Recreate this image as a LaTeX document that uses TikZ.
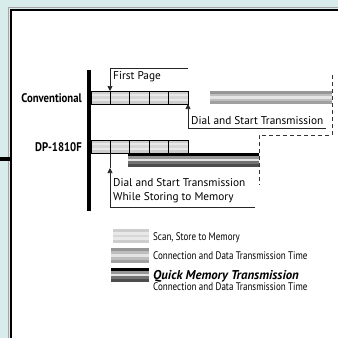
\documentclass[tikz,border=0pt]{standalone}
\usepackage{fontspec}
\setmainfont{PT Sans}
\newfontfamily\condfont[FakeStretch=0.82]{PT Sans}
\newfontfamily\rowfont[FakeStretch=0.86]{PT Sans}
\usetikzlibrary{arrows.meta,positioning}

\definecolor{bgcyan}{RGB}{216,236,235}
\definecolor{scanA}{RGB}{205,205,205}
\definecolor{scanB}{RGB}{232,232,232}
\definecolor{connA}{RGB}{150,150,150}
\definecolor{connB}{RGB}{190,190,190}
\definecolor{connC}{RGB}{228,228,228}

% five horizontal stripes: x1, y1, x2, y2, colours
\newcommand{\stripebar}[5]{%
  \foreach \c [count=\i from 0] in {#5}
    \fill[\c] (#1,{#2+\i*(#4-#2)/5}) rectangle (#3,{#2+(\i+1)*(#4-#2)/5});
}

\tikzset{
  cell/.style={draw=black,line width=0.8pt},
  leader/.style={draw=black!85,line width=0.7pt},
  tip/.style={-{Triangle[length=5pt,width=5pt]}},
  guide/.style={draw=black!80,line width=0.8pt,dash pattern=on 4pt off 3pt},
  rowlabel/.style={font=\rowfont\bfseries\fontsize{12.5}{14}\selectfont,anchor=base east,inner sep=0pt},
  note/.style={font=\fontsize{11.3}{13}\selectfont,anchor=base west,inner sep=0pt},
  keytext/.style={font=\condfont\fontsize{11}{13}\selectfont,anchor=base west,inner sep=0pt}
}

\begin{document}
\begin{tikzpicture}[x=1pt,y=-1pt]

    % 1. Background and panel
    \useasboundingbox (0,0) rectangle (338,338);
    \fill[bgcyan] (0,0) rectangle (338,338);
    \fill[white] (11,10) rectangle (338,338);
    \draw[black!35,line width=1pt] (8.5,338) -- (8.5,7.5) -- (338,7.5);
    \draw[line width=2.2pt] (11,338) -- (11,10) -- (338,10);
    \draw[line width=3.5pt] (0,159) -- (11,159);

    % 2. Time axis
    \draw[line width=4pt] (89,70) -- (89,211);

    % 3. Conventional row
    \stripebar{91}{91}{188}{104}{scanA,scanB,scanA!80,scanB,scanA}
    \draw[cell] (91,91) rectangle (188,104);
    \foreach \x in {110,129,149,168} \draw[cell] (\x,91) -- (\x,104);
    \stripebar{210}{91}{332}{104}{connA,connB,connC,connB,connA!90}
    \node[rowlabel] (conv) at (82,102) {Conventional};

    % 4. DP-1810F row
    \stripebar{91}{140}{188}{153}{scanA,scanB,scanA!80,scanB,scanA}
    \draw[cell] (91,140) rectangle (188,153);
    \foreach \x in {110,129,149,168} \draw[cell] (\x,140) -- (\x,153);
    \stripebar{128}{153}{259}{167}{black,connA,connC,black!55,black!70}
    \node[rowlabel] (dp) at (82,151) {DP-1810F};

    % 5. Leaders and their labels
    \coordinate (fpbar) at (110,91);
    \coordinate (fptop) at (110,68);
    \coordinate (fpend) at (188,68);
    \draw[leader,tip] (fpend) -- (fptop) -- (fpbar);
    \node[note] (fp) at (113,79) {First Page};

    \coordinate (dsbar) at (188,104);
    \coordinate (dsfoot) at (188,128);
    \coordinate (dsend) at (326,128);
    \draw[leader,tip] (dsend) -- (dsfoot) -- (dsbar);
    \node[note] (ds) at (191,124) {Dial and Start Transmission};

    \coordinate (qbar) at (110,153);
    \coordinate (qtip) at (110,168);
    \coordinate (qfoot) at (110,207);
    \coordinate (qend) at (255,207);
    \draw[leader,tip] (qend) -- (qfoot) -- (qtip);
    \draw[leader] (qtip) -- (qbar);
    \node[note] (qs) at (113,186) {Dial and Start Transmission};
    \node[note] (qm) at (113,200.5) {While Storing to Memory};

    % 6. Dashed guides
    \coordinate (ga) at (332,75);
    \coordinate (gb) at (332,135);
    \coordinate (gc) at (259,135);
    \coordinate (gd) at (259,185);
    \draw[guide] (ga) -- (gb) -- (gc) -- (gd);

    % 7. Key
    \stripebar{113}{229}{149}{243}{scanA,scanB,scanA!80,scanB,scanA}
    \node[keytext] (k1) at (153,240) {Scan, Store to Memory};
    \stripebar{111}{248}{149}{263}{connA,connB,connC,connB,connA!90}
    \node[keytext] (k2) at (153,259) {Connection and Data Transmission Time};
    \stripebar{111}{268}{149}{282}{black,connA,connC,black!55,black!70}
    \node[note,font=\bfseries\itshape\fontsize{12.8}{14}\selectfont] (k3) at (153,279) {Quick Memory Transmission};
    \node[keytext] (k4) at (153,290) {Connection and Data Transmission Time};

\end{tikzpicture}
\end{document}
